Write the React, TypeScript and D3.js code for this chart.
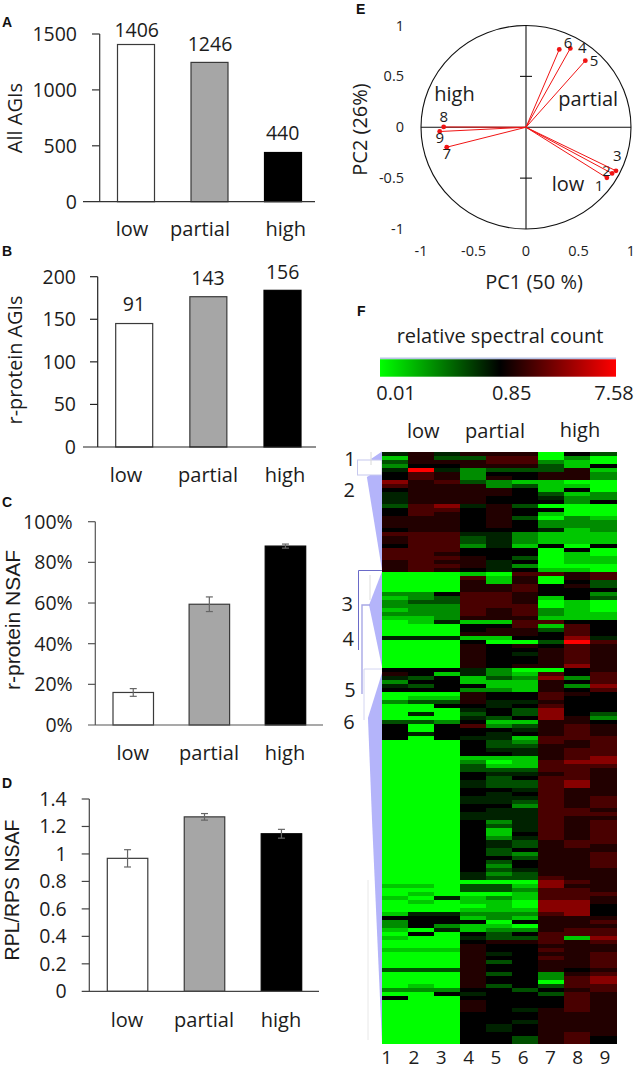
import React from "react";
import * as d3 from "d3";

const categories = ["low", "partial", "high"];
const allAgis = [1406, 1246, 440];
const allAgisLabels = ["1406", "1246", "440"];
const allAgisTicks = [0, 500, 1000, 1500];
const rProteinAgis = [145, 176.5, 184];
const rProteinAgisLabels = ["91", "143", "156"];
const rProteinAgisTicks = [0, 50, 100, 150, 200];
const rProteinNsaf = [16, 59.4, 88];
const rProteinNsafErr = [1.9, 3.6, 1];
const rProteinNsafTicks = [0, 20, 40, 60, 80, 100];
const rplRps = [0.968, 1.27, 1.147];
const rplRpsErr = [0.063, 0.024, 0.032];
const rplRpsTicks = [0, 0.2, 0.4, 0.6, 0.8, 1, 1.2, 1.4];

const pcaIds = ["1", "2", "3", "4", "5", "6", "7", "8", "9"];
const pc1 = [0.77, 0.82, 0.857, 0.422, 0.565, 0.317, -0.755, -0.784, -0.822];
const pc2 = [-0.497, -0.454, -0.428, 0.775, 0.654, 0.765, -0.196, 0.003, -0.042];
const pcaTicks = [-1, -0.5, 0, 0.5, 1];

// one string per protein row, one digit per sample: 0 = brightest green, 5 = black, 9 = brightest red
const heatRows = [
  "464666053","163377020","366677210","255666315","494233361","576255662","576265662","867321100","766623110",
  "566665150","466665312","466655422","466655525","378463000","577565500","576565100","666563021","666565222",
  "666565222","566555412","777442111","677342111","677342111","577241505","777555050","776555010","777653011",
  "676645011","677642000","676545110","000107767","000716067","000616053","000667563","000667555","225776552",
  "123776153","233776010","222777010","122767210","222767211","112666111","014117755","000557175","000566375",
  "000666575","444115584","000500397","000656576","000655676","000654676","000655676","000655676","000656686",
  "555420056","651421757","435132827","255111657","435511628","555221657","000655765","011655755","233644655",
  "005545755","000453855","040353853","000435862","332511665","505723676","505554676","545545676","505441777",
  "000532767","000533667","000544677","000554677","000111678","000201788","000311777","000333776","000544676",
  "000535776","000433786","000433786","000554766","000545766","000444767","000443767","000552767","000544776",
  "000444777","000444766","000524767","000534767","000514767","000515767","000524767","000543677","000543676",
  "000535666","000532667","000553667","000535667","000525667","000534666","000423666","000433766","000000876",
  "110331866","000332776","010001777","104121776","010110886","000010885","000111885","144222785","555121666",
  "255505667","252110666","104122677","050535777","100433718","000566767","000655666","111655766","000645667",
  "000655767","000635667","000655667","333655656","000635267","000655278","000655078","010635377","222553567",
  "005455376","500555576","000655576","000655576","000654676","000555666","000555666","000554666","000545666",
  "000545666","000555676","000553675","000553675",
];
const heatSteps = [0, 1, 2, 3, 4, 5, 6, 7, 8, 9];
const heatStepColors = ["#00ff00", "#00c800", "#008c00", "#005000", "#002300", "#000000", "#240000", "#480000", "#880000", "#ff0000"];
const sampleLabels = ["1", "2", "3", "4", "5", "6", "7", "8", "9"];
const legendStops = ["#00ff00", "#000000", "#ff0000"];

// dendrogram wedges as [depth, row]
const clusterOne = [[0, 0], [0.41, 1.9], [0, 3.9]];
const clusterTwo = [[0, 4.1], [0.56, 6.4], [0, 29.6]];
const clusterThree = [[0, 30], [0.48, 38.4], [0, 53.9]];
const clusterSix = [[0, 55.4], [0.52, 66.6], [0.37, 92.1], [0, 147.9]];

const FONT = "'Open Sans', sans-serif";
const TIGHT_FONT = "'Liberation Sans', Arial, sans-serif";
const INK = "#1c1c1c";

type PanelProps = {
  values: number[]; ticks: number[]; max: number; axisX: number; top: number; bottom: number;
  tickLeft: number; xLeft: number; xRight: number; barLeft: number; barRight: number; barWidth: number;
  labelRight: number; fmt: (v: number) => string; title: string; titleX: number; titleY: number; titleSize: number;
  catBaseline: number; catX: number[]; axisColor: string; errors?: number[]; labels?: string[];
  labelPos?: number[][]; titleFont?: string;
};

function BarPanel(p: PanelProps) {
  const y = d3.scaleLinear().domain([0, p.max]).range([p.bottom, p.top]);
  const x = d3.scaleBand<string>().domain(categories).range([p.barLeft, p.barRight]).paddingInner(1 - p.barWidth / ((p.barRight - p.barWidth - p.barLeft) / 2)).paddingOuter(0);
  const fills = ["#ffffff", "#a6a6a6", "#000000"];
  return (
    <g>
      {categories.map((c, i) => (
        <rect key={c} x={x(c)} y={y(p.values[i])} width={x.bandwidth()} height={p.bottom - y(p.values[i])}
          fill={fills[i]} stroke={i === 2 ? "#000" : "#3a3a3a"} strokeWidth={1.2} />
      ))}
      <line x1={p.axisX} x2={p.axisX} y1={p.top} y2={p.bottom} stroke={p.axisColor} strokeWidth={1.2} />
      <line x1={p.xLeft} x2={p.xRight} y1={p.bottom} y2={p.bottom} stroke={p.axisColor} strokeWidth={1.2} />
      {p.ticks.map((t) => (
        <g key={t}>
          {t > 0 && <line x1={p.tickLeft} x2={p.axisX} y1={y(t)} y2={y(t)} stroke={p.axisColor} strokeWidth={1.2} />}
          <text x={p.labelRight} y={y(t) + 7} textAnchor="end" fontSize={19.5} fill={INK}>{p.fmt(t)}</text>
        </g>
      ))}
      {p.errors && categories.map((c, i) => {
        const cx = x(c)! + x.bandwidth() / 2;
        const hi = y(p.values[i] + p.errors![i]);
        const lo = y(p.values[i] - p.errors![i]);
        return (
          <g key={c} stroke="#666" strokeWidth={1.2}>
            <line x1={cx} x2={cx} y1={hi} y2={lo} />
            <line x1={cx - 3.5} x2={cx + 3.5} y1={hi} y2={hi} />
            <line x1={cx - 3.5} x2={cx + 3.5} y1={lo} y2={lo} />
          </g>
        );
      })}
      {p.labels && p.labelPos && p.labels.map((l, i) => (
        <text key={l} x={p.labelPos![i][0]} y={p.labelPos![i][1]} textAnchor="middle" fontSize={19.5} fill={INK}>{l}</text>
      ))}
      {categories.map((c, i) => (
        <text key={c} x={p.catX[i]} y={p.catBaseline} textAnchor="middle" fontSize={20} fill={INK}>{c}</text>
      ))}
      <text transform={`translate(${p.titleX},${p.titleY}) rotate(-90)`} textAnchor="middle" fontSize={p.titleSize} fontFamily={p.titleFont ?? FONT} fill={INK}>{p.title}</text>
    </g>
  );
}

function PanelLetter({ x, y, t }: { x: number; y: number; t: string }) {
  return <text x={x} y={y} fontFamily={TIGHT_FONT} fontWeight={700} fontSize={14} fill="#111">{t}</text>;
}

function Pca() {
  const x = d3.scaleLinear().domain([-1, 1]).range([421, 631]);
  const y = d3.scaleLinear().domain([-1, 1]).range([229, 25.5]);
  const idLabelPos = [[599, 190.7], [606.5, 175.7], [617.3, 161], [582.3, 53], [594, 66], [568, 47.7], [446.7, 159.3], [443.7, 122.3], [439.7, 143.3]];
  const fmt = (v: number) => String(v);
  return (
    <g>
      <ellipse cx={x(0)} cy={y(0)} rx={x(1) - x(0)} ry={y(0) - y(1)} fill="none" stroke="#111" strokeWidth={1.1} />
      <line x1={x(-1)} x2={x(1)} y1={y(0)} y2={y(0)} stroke="#111" strokeWidth={1.1} />
      <line x1={x(0)} x2={x(0)} y1={y(1)} y2={y(-1)} stroke="#111" strokeWidth={1.1} />
      {[-0.5, 0.5].map((t) => (
        <line key={t} x1={x(0) - 6} x2={x(0) + 6} y1={y(t)} y2={y(t)} stroke="#111" strokeWidth={1.1} />
      ))}
      {pcaIds.map((id, i) => (
        <g key={id}>
          <line x1={x(0)} y1={y(0)} x2={x(pc1[i])} y2={y(pc2[i])} stroke="#f01414" strokeWidth={1} />
          <circle cx={x(pc1[i])} cy={y(pc2[i])} r={2.4} fill="#f01414" />
          <text x={idLabelPos[i][0]} y={idLabelPos[i][1]} textAnchor="middle" fontSize={15} fill={INK}>{id}</text>
        </g>
      ))}
      {pcaTicks.map((t) => (
        <g key={t} fontSize={14.5} fill={INK}>
          <text x={404} y={y(t) + 5} textAnchor="end">{fmt(t)}</text>
          <text x={x(t)} y={256} textAnchor="middle">{fmt(t)}</text>
        </g>
      ))}
      <text x={434.3} y={101} fontSize={20} fill={INK}>high</text>
      <text x={558.3} y={106} fontSize={20} fill={INK}>partial</text>
      <text x={551.7} y={190.7} fontSize={20} fill={INK}>low</text>
      <text x={534} y={289} textAnchor="middle" fontSize={20} fill={INK}>PC1 (50 %)</text>
      <text transform="translate(366.7,129.5) rotate(-90)" textAnchor="middle" fontSize={20} fill={INK}>PC2 (26%)</text>
    </g>
  );
}

function Heatmap() {
  const rowH = 4;
  const top = 451.5;
  const x = d3.scaleBand<string>().domain(sampleLabels).range([382, 616.5]);
  const y = d3.scaleLinear().domain([0, heatRows.length]).range([top, top + rowH * heatRows.length]);
  const color = d3.scaleLinear<string>().domain(heatSteps).range(heatStepColors);
  const depth = d3.scaleLinear().domain([0, 1]).range([382, 355]);
  const wedge = d3.line<number[]>().x((d) => depth(d[0])).y((d) => y(d[1]));
  const labelX = d3.scalePoint<string>().domain(sampleLabels).range([386.7, 605]);
  const clusterIds = ["1", "2", "3", "4", "5", "6"];
  const clusterPos = [[350, 465.7], [349.3, 496.7], [347.3, 610.7], [348.3, 646], [350, 697.3], [349, 729]];
  return (
    <g>
      <defs>
        <linearGradient id="legendGrad" x1="0" x2="1" y1="0" y2="0">
          {legendStops.map((c, i) => <stop key={c} offset={[0, 0.51, 1][i]} stopColor={c} />)}
        </linearGradient>
        <filter id="soft" x="0" y="0" width="100%" height="100%">
          <feGaussianBlur stdDeviation="0.25 0.55" />
        </filter>
      </defs>
      <text x={500} y={342.7} textAnchor="middle" fontSize={20} fill={INK}>relative spectral count</text>
      <rect x={380} y={357.5} width={236} height={2} fill="#b9c4e6" />
      <rect x={380} y={359.3} width={236} height={17.4} fill="url(#legendGrad)" />
      <text x={396} y={400} textAnchor="middle" fontSize={20} fill={INK}>0.01</text>
      <text x={511.7} y={400} textAnchor="middle" fontSize={20} fill={INK}>0.85</text>
      <text x={614} y={400} textAnchor="middle" fontSize={20} fill={INK}>7.58</text>
      <text x={423.3} y={438.3} textAnchor="middle" fontSize={20} fill={INK}>low</text>
      <text x={495} y={438.3} textAnchor="middle" fontSize={20} fill={INK}>partial</text>
      <text x={580} y={436.7} textAnchor="middle" fontSize={20} fill={INK}>high</text>

      {[clusterOne, clusterTwo, clusterThree, clusterSix].map((c, i) => (
        <path key={i} d={wedge(c)! + "Z"} fill="#b4b4fa" />
      ))}
      <rect x={357.5} y={460} width={24.5} height={15} fill="#ffffff" stroke="#c6c8ee" strokeWidth={1} />
      <line x1={371} x2={371} y1={452} y2={465} stroke="#d8d8d8" strokeWidth={1} />
      <path d="M382 570.5H358.5V650" fill="none" stroke="#6a6ac8" strokeWidth={1} />
      <path d="M370 605H362V694" fill="none" stroke="#a8a8e6" strokeWidth={1.4} />
      <path d="M382 669H364V720" fill="none" stroke="#d4d6f2" strokeWidth={1} />
      <line x1={370} x2={370} y1={575} y2={600} stroke="#dcdcdc" />
      <line x1={368} x2={368} y1={880} y2={1040} stroke="#e8e8e8" />

      <g filter="url(#soft)">
        {heatRows.map((r, i) => (
          <g key={i} shapeRendering="crispEdges">
            {sampleLabels.map((s, j) => (
              <rect key={s} x={x(s)} y={y(i)} width={x.bandwidth() + 0.5} height={rowH + 0.5} fill={color(+r[j])} />
            ))}
          </g>
        ))}
      </g>
      {clusterIds.map((c, i) => (
        <text key={c} x={clusterPos[i][0]} y={clusterPos[i][1]} textAnchor="middle" fontSize={20} fill={INK}>{c}</text>
      ))}
      {sampleLabels.map((s) => (
        <text key={s} x={labelX(s)} y={1064} textAnchor="middle" fontSize={19} fill={INK}>{s}</text>
      ))}
    </g>
  );
}

export default function App() {
  const plain = (v: number) => String(v);
  return (
    <svg width={635} height={1070} viewBox="0 0 635 1070" fontFamily={FONT}
      style={{ position: "absolute", left: 0, top: 0, background: "#fff", display: "block" }}>
      <PanelLetter x={2} y={27} t="A" />
      <PanelLetter x={2} y={256} t="B" />
      <PanelLetter x={2} y={507} t="C" />
      <PanelLetter x={2} y={788} t="D" />
      <PanelLetter x={356} y={14} t="E" />
      <PanelLetter x={357} y={316} t="F" />

      <BarPanel values={allAgis} ticks={allAgisTicks} max={1500} axisX={99.7} top={34} bottom={201.7} tickLeft={92}
        xLeft={83} xRight={315} barLeft={117.5} barRight={301.5} barWidth={37} labelRight={77} fmt={plain}
        title="All AGIs" titleX={22} titleY={118} titleSize={20} catBaseline={236} catX={[132, 200, 285.7]}
        axisColor="#333" labels={allAgisLabels} labelPos={[[136.7, 37], [210, 50.7], [282.7, 140]]} />
      <BarPanel values={rProteinAgis} ticks={rProteinAgisTicks} max={200} axisX={97.7} top={276.7} bottom={447} tickLeft={90}
        xLeft={83} xRight={316} barLeft={115.7} barRight={301} barWidth={37} labelRight={76} fmt={plain}
        title="r-protein AGIs" titleX={22} titleY={360} titleSize={19.8} catBaseline={481.7} catX={[126, 208, 285]}
        axisColor="#222" labels={rProteinAgisLabels} labelPos={[[134, 311], [208, 285], [282.7, 279.3]]} />
      <BarPanel values={rProteinNsaf} ticks={rProteinNsafTicks} max={100} axisX={95.3} top={521.7} bottom={725} tickLeft={88}
        xLeft={88} xRight={323} barLeft={113} barRight={305.7} barWidth={40.5} labelRight={72.7} fmt={(v) => `${v}%`}
        title="r-protein NSAF" titleX={19.5} titleY={620} titleSize={21} titleFont={TIGHT_FONT} catBaseline={760} catX={[132.7, 209, 285]}
        axisColor="#555" errors={rProteinNsafErr} />
      <BarPanel values={rplRps} ticks={rplRpsTicks} max={1.4} axisX={89.3} top={799} bottom={991.3} tickLeft={81.7}
        xLeft={81.7} xRight={319} barLeft={107.3} barRight={301.7} barWidth={40.5} labelRight={66.7} fmt={plain}
        title="RPL/RPS NSAF" titleX={18.5} titleY={890} titleSize={19.5} titleFont={TIGHT_FONT} catBaseline={1027} catX={[127, 204, 281]}
        axisColor="#444" errors={rplRpsErr} />
      <Pca />
      <Heatmap />
    </svg>
  );
}
